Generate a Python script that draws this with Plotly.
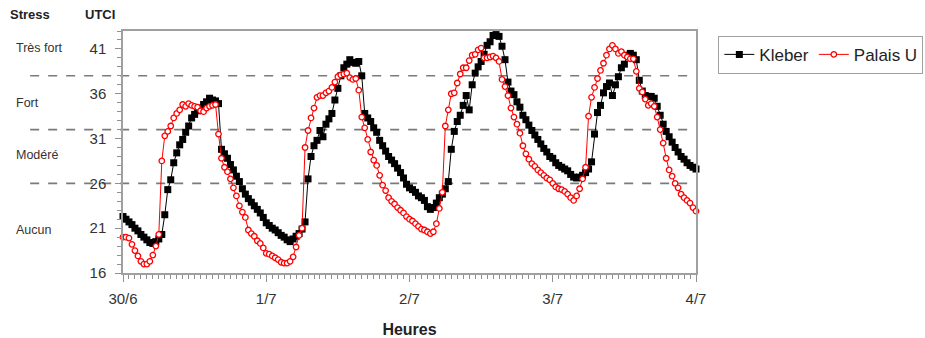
import plotly.graph_objects as go

# ---- data (half-hourly UTCI values, 30/6 00h -> 4/7 00h) ----
kleber_d1 = [22.3, 22.0, 21.7, 21.4, 21.0, 20.7, 20.3, 20.0, 19.7, 19.4, 19.3, 19.5, 19.8, 20.3,
             22.5, 25.3, 26.4, 28.3, 29.4, 30.3, 30.9, 31.7, 32.4, 33.3, 33.7, 34.1, 34.4, 34.8,
             35.1, 35.5, 35.3, 35.2, 34.9, 29.8, 29.3, 28.8, 28.1, 27.5, 26.8, 26.2, 25.4, 24.8,
             24.3, 23.9, 23.5, 23.1, 22.7, 22.2, 21.6]
kleber_d2 = [21.3, 21.0, 20.8, 20.5, 20.2, 20.0, 19.7, 19.5, 19.8, 20.1, 20.4, 20.9, 21.7, 26.5,
             29.0, 30.2, 30.8, 31.9, 31.2, 32.6, 33.2, 33.8, 35.3, 36.6, 38.0, 38.9, 39.3, 39.8,
             39.5, 39.4, 39.6, 38.0, 33.8, 33.3, 32.9, 32.2, 31.7, 30.8, 30.2, 29.6, 29.0, 28.6,
             28.2, 27.7, 27.2, 26.6, 25.9, 25.5]
kleber_d3 = [25.3, 25.0, 24.6, 24.4, 24.1, 23.4, 23.1, 23.3, 23.8, 24.4, 24.8, 25.4, 26.2, 29.8,
             31.8, 32.9, 33.6, 34.7, 35.8, 34.2, 37.0, 38.3, 39.0, 39.6, 40.4, 41.4, 41.8, 42.5,
             42.6, 42.4, 41.3, 39.8, 37.3, 36.3, 35.9, 35.1, 34.5, 33.6, 33.1, 32.5, 31.9, 31.4,
             30.9, 30.4, 29.9, 29.5, 29.0, 28.8]
kleber_d4 = [28.3, 28.0, 27.8, 27.6, 27.4, 27.0, 26.7, 26.6, 26.7, 26.9, 27.2, 27.6, 28.4, 31.5,
             33.9, 34.7, 36.1, 36.8, 37.2, 35.8, 37.0, 37.9, 38.9, 39.3, 40.3, 40.5, 40.3, 39.8,
             37.5, 36.3, 35.8, 35.7, 35.7, 35.5, 34.6, 33.6, 32.6, 31.8, 31.2, 30.6, 30.0, 29.5,
             29.0, 28.7, 28.3, 28.0, 27.8, 27.6]

palais_d1 = [20.0, 20.0, 19.9, 19.2, 18.5, 17.9, 17.3, 17.0, 17.0, 17.3, 18.0, 19.0, 20.3, 28.5,
             31.3, 31.8, 32.4, 33.3, 33.8, 34.2, 34.8, 34.6, 34.9, 34.7, 34.6, 34.5, 34.1, 34.0,
             34.4, 34.6, 34.7, 34.8, 31.5, 28.8, 27.8, 27.3, 26.5, 25.5, 24.6, 23.5, 22.8, 22.2,
             20.8, 20.4, 20.1, 19.6, 19.3, 18.8, 18.2]
palais_d2 = [18.1, 17.9, 17.7, 17.5, 17.2, 17.1, 17.1, 17.3, 17.8, 18.9, 20.2, 21.0, 30.0, 31.9,
             33.3, 34.4, 35.6, 35.8, 35.8, 36.1, 36.3, 36.7, 37.3, 37.9, 38.1, 38.2, 38.3, 37.8,
             37.6, 37.7, 36.4, 33.4, 32.2, 30.9, 29.5, 28.6, 28.0, 26.9, 25.8, 25.2, 24.4, 24.0,
             23.7, 23.3, 23.0, 22.7, 22.3, 22.0]
palais_d3 = [21.8, 21.5, 21.2, 20.9, 20.8, 20.6, 20.4, 20.6, 21.5, 23.2, 25.0, 32.4, 34.2, 36.0,
             36.1, 37.2, 38.2, 38.9, 38.9, 39.7, 40.3, 40.4, 40.9, 41.1, 40.0, 40.0, 40.1, 40.2,
             40.0, 39.6, 37.6, 36.8, 35.8, 34.4, 33.4, 32.6, 31.6, 30.2, 29.3, 28.7, 28.2, 27.9,
             27.5, 27.2, 26.9, 26.6, 26.4, 26.0]
palais_d4 = [25.6, 25.4, 25.3, 25.1, 24.8, 24.4, 24.1, 24.6, 25.4, 26.5, 27.8, 33.5, 35.6, 36.7,
             37.7, 38.6, 39.4, 40.3, 41.0, 41.4, 41.0, 40.5, 40.7, 40.3, 40.1, 39.9, 39.9, 38.5,
             36.6, 36.2, 35.4, 34.7, 34.9, 34.6, 33.4, 32.0, 30.5, 28.8, 27.5, 26.8, 26.0, 25.5,
             24.8, 24.4, 24.1, 23.8, 23.3, 22.9]

day_ticks = [0, 24, 48, 72, 96]
day_labels = ["30/6", "1/7", "2/7", "3/7", "4/7"]
stress_thresholds = [26, 32, 38]
stress_labels = ["Très fort", "Fort", "Modéré", "Aucun"]
stress_label_y = [41.1, 35, 29.2, 20.8]

kleber = kleber_d1 + kleber_d2 + kleber_d3 + kleber_d4
palais = palais_d1 + palais_d2 + palais_d3 + palais_d4
hours = [0.5 * i for i in range(len(kleber))]

FONT = "Arial, Liberation Sans, sans-serif"

fig = go.Figure()
fig.add_trace(go.Scatter(
    x=hours, y=kleber, name="Kleber", mode="lines+markers",
    line=dict(color="black", width=1),
    marker=dict(symbol="square", size=7, color="black"),
    cliponaxis=False,
))
fig.add_trace(go.Scatter(
    x=hours, y=palais, name="Palais U", mode="lines+markers",
    line=dict(color="#ff0000", width=1),
    marker=dict(symbol="circle", size=5.5, color="white", line=dict(color="#ff0000", width=1.3)),
    cliponaxis=False,
))

for th in stress_thresholds:
    fig.add_shape(type="line", xref="paper", yref="y", x0=-0.162, x1=1, y0=th, y1=th,
                  line=dict(color="#7a7a7a", width=1.6, dash="dash"), layer="below")

for lbl, yv in zip(stress_labels, stress_label_y):
    fig.add_annotation(text=lbl, xref="paper", yref="y", x=-0.19, y=yv, xanchor="left",
                       yanchor="middle", showarrow=False,
                       font=dict(family=FONT, size=12.5, color="#333333"))

fig.add_annotation(text="<b>Stress</b>", xref="paper", yref="paper", x=-0.2, y=1.067,
                   xanchor="left", yanchor="middle", showarrow=False,
                   font=dict(family=FONT, size=13, color="#222222"))
fig.add_annotation(text="<b>UTCI</b>", xref="paper", yref="paper", x=-0.07, y=1.067,
                   xanchor="left", yanchor="middle", showarrow=False,
                   font=dict(family=FONT, size=13, color="#222222"))

fig.update_layout(
    width=925, height=338,
    margin=dict(l=123, r=229, t=31, b=65, autoexpand=False),
    paper_bgcolor="white", plot_bgcolor="white",
    font=dict(family=FONT, color="#222222"),
    showlegend=True,
    legend=dict(orientation="h", x=1.039, y=0.98, xanchor="left", yanchor="top",
                bordercolor="#a0a0a0", borderwidth=1, bgcolor="white",
                font=dict(family=FONT, size=17, color="#222222"),
                itemwidth=30, tracegroupgap=0),
    xaxis=dict(
        range=[0, 96], tickmode="array", tickvals=day_ticks, ticktext=day_labels,
        ticks="outside", ticklen=7, tickcolor="#909090",
        minor=dict(dtick=1, ticks="outside", ticklen=4, tickcolor="#909090", showgrid=False),
        showgrid=False, zeroline=False, automargin=False,
        showline=True, linecolor="#a0a0a0", linewidth=1.5, mirror=True,
        tickfont=dict(family=FONT, size=15, color="#333333"),
        ticklabelstandoff=4,
        title=dict(text="<b>Heures</b>", font=dict(family=FONT, size=16, color="#222222"),
                   standoff=18),
    ),
    yaxis=dict(
        range=[16, 43], tickmode="array", tickvals=[16, 21, 26, 31, 36, 41],
        ticks="outside", ticklen=6, tickcolor="#909090",
        minor=dict(dtick=1, ticks="outside", ticklen=4, tickcolor="#909090", showgrid=False),
        showgrid=False, zeroline=False, automargin=False,
        showline=True, linecolor="#a0a0a0", linewidth=1.5, mirror=True,
        tickfont=dict(family=FONT, size=15, color="#333333"),
        ticklabelstandoff=6,
    ),
)

fig.write_html("out.html", config={"displayModeBar": False},
               post_script="document.body.style.margin='0px';")
